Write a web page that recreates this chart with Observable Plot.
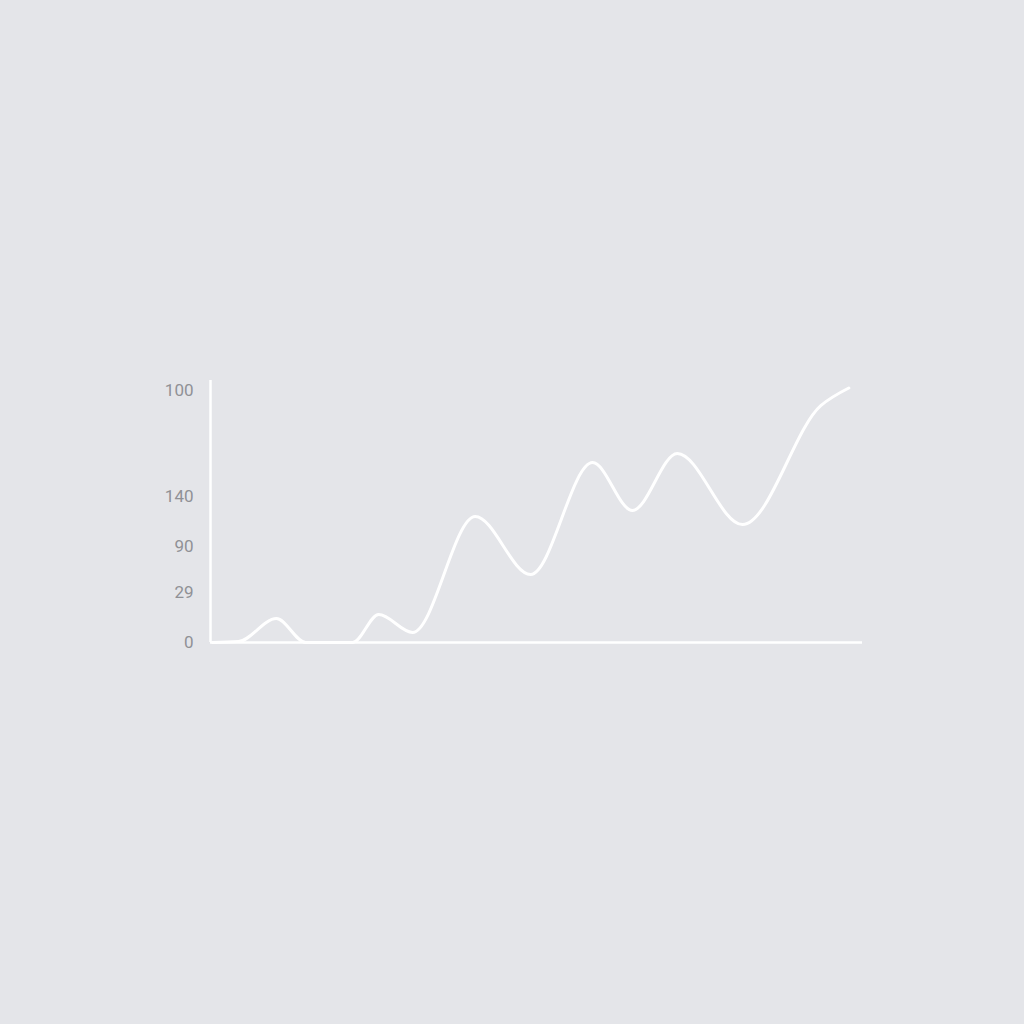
<!DOCTYPE html>
<html>
<head>
<meta charset="utf-8">
<script src="https://cdn.jsdelivr.net/npm/d3@7"></script>
<script src="https://cdn.jsdelivr.net/npm/@observablehq/plot@0.6"></script>
<style>
  html, body { margin: 0; padding: 0; background: #e4e5e9; }
  #chart svg { display: block; }
</style>
</head>
<body>
<div id="chart"></div>
<script>
// Series (x: position along the axis 0–100, y: height on the axis scale 0–100)
const xValues = [0.3, 4.3, 10.1, 14.6, 21.8, 25.8, 31.0, 40.6, 49.1, 58.6, 64.7, 71.6, 81.6, 93.6, 97.9];
const yValues = [0, 0.4, 9.5, 0, 0, 11.1, 4.0, 50, 27, 71.4, 52.4, 75, 46.8, 94, 101];

// Y tick positions and their printed labels (as shown in the reference)
const yTickPositions = [0, 19.8, 38.1, 57.9, 100];
const yTickLabels = ["0", "29", "90", "140", "100"];

const data = xValues.map((x, i) => ({x, y: yValues[i]}));

const chart = Plot.plot({
  width: 1024,
  height: 1024,
  marginLeft: 210,
  marginRight: 162,
  marginTop: 390,
  marginBottom: 382,
  style: {background: "#e4e5e9", fontFamily: "Roboto, 'Noto Sans', sans-serif"},
  x: {domain: [0, 100], axis: null},
  y: {domain: [0, 100], clamp: false},
  marks: [
    Plot.axisY({
      ticks: yTickPositions,
      tickFormat: (d) => yTickLabels[yTickPositions.indexOf(d)],
      tickSize: 0,
      tickPadding: 17,
      fontSize: 17,
      fill: "#909196",
      label: null
    }),
    Plot.ruleY([0], {stroke: "#ffffff", strokeWidth: 2.5}),
    Plot.ruleX([0], {y1: 0, y2: 104, stroke: "#ffffff", strokeWidth: 2.5}),
    Plot.line(data, {x: "x", y: "y", curve: "monotone-x", stroke: "#ffffff", strokeWidth: 3})
  ]
});
document.getElementById("chart").appendChild(chart);
</script>
</body>
</html>
